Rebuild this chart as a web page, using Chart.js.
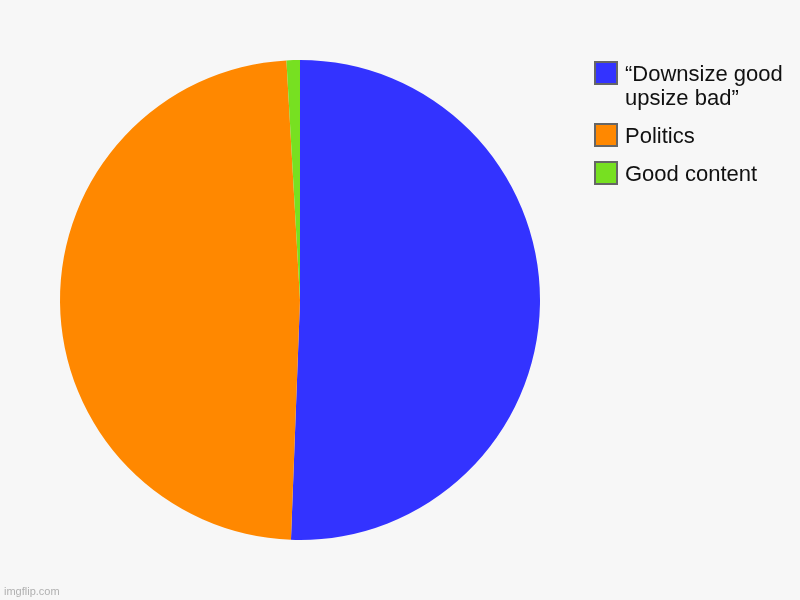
<!DOCTYPE html>
<html>
<head>
<meta charset="utf-8">
<script src="https://cdn.jsdelivr.net/npm/chart.js@4.4.1/dist/chart.umd.min.js"></script>
<style>
  html, body { margin: 0; padding: 0; background: #f7f7f7; }
  #wrap { width: 800px; height: 600px; }
</style>
</head>
<body>
<div id="wrap"><canvas id="pieChart" width="800" height="600"></canvas></div>
<script>
const labels = ['“Downsize good upsize bad”', 'Politics', 'Good content'];
const legendLines = [['“Downsize good', 'upsize bad”'], ['Politics'], ['Good content']];
const values = [50.6, 48.5, 0.9];
const colors = ['#3333ff', '#ff8800', '#77e021'];

// custom legend + watermark, drawn from the chart's own data
const sideLegend = {
    id: 'sideLegend',
    afterDraw(chart) {
        const c = chart.ctx;
        const ds = chart.data.datasets[0];
        c.save();
        c.font = '22px "Liberation Sans", Arial, sans-serif';
        c.textBaseline = 'middle';
        let y = 61;
        legendLines.forEach(function (lines, i) {
            c.fillStyle = ds.backgroundColor[i];
            c.fillRect(595, y + 1, 22, 22);
            c.strokeStyle = '#666666';
            c.lineWidth = 2;
            c.strokeRect(595, y + 1, 22, 22);
            c.fillStyle = '#111111';
            lines.forEach(function (t, j) {
                c.fillText(t, 625, y + 14 + j * 24);
            });
            y += 24 * lines.length + 14;
        });
        c.font = '11px "Liberation Sans", Arial, sans-serif';
        c.fillStyle = '#b0b0b0';
        c.textBaseline = 'alphabetic';
        c.fillText('imgflip.com', 4, 595);
        c.restore();
    }
};

new Chart(document.getElementById('pieChart'), {
    type: 'pie',
    data: {
        labels: labels,
        datasets: [{
            data: values,
            backgroundColor: colors,
            borderWidth: 0
        }]
    },
    options: {
        responsive: false,
        animation: false,
        layout: { padding: { left: 60, top: 60, right: 260, bottom: 60 } },
        plugins: {
            legend: { display: false },
            tooltip: { enabled: false }
        }
    },
    plugins: [sideLegend]
});
</script>
</body>
</html>
